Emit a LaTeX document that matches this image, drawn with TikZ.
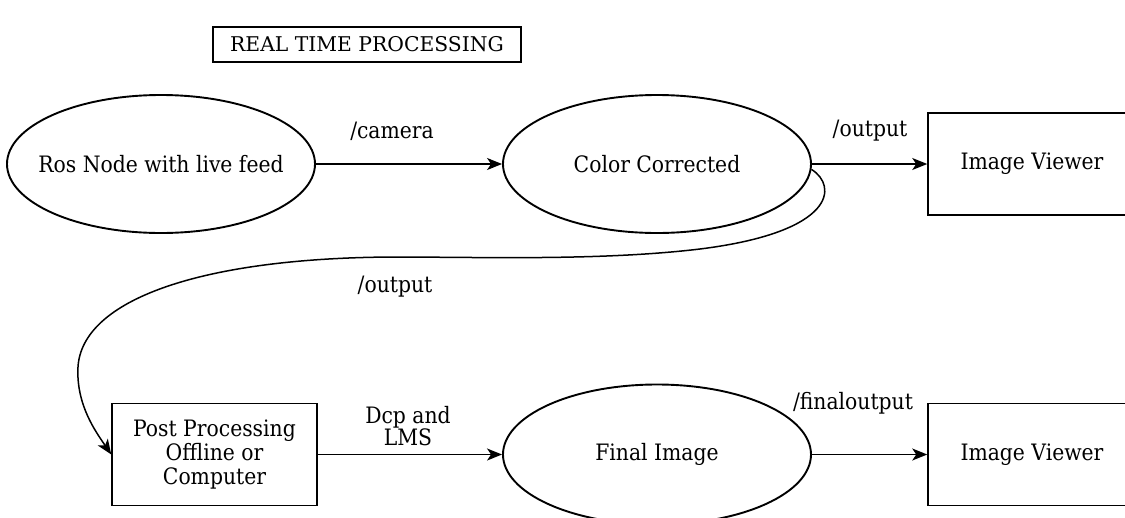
\documentclass[tikz,border=0pt]{standalone}
\usepackage{fontspec}
\setmainfont{DejaVu Serif}
\newfontfamily\narrowserif{DejaVu Serif Condensed}
\usetikzlibrary{shapes.geometric,arrows.meta}

% text that does not widen the shape around it
\newcommand{\zerowide}[1]{\makebox[0pt][c]{#1}}

\tikzset{
  every node/.style={font=\narrowserif\fontsize{22.6}{24}\selectfont},
  oval/.style={draw, ellipse, line width=1.9pt, inner sep=0pt,
    minimum width=308, minimum height=138},
  panel/.style={draw, rectangle, line width=1.5pt, inner sep=0pt, align=center},
  flow/.style={line width=1.5pt, -{Stealth[length=15pt, width=12pt, inset=4pt]}},
  tag/.style={inner sep=0pt, align=center}
}

\begin{document}
\begin{tikzpicture}[x=1pt, y=-1pt]
  \useasboundingbox (0,0) rectangle (1125,517);
  \clip (0,0) rectangle (1125,517);
  \fill[white] (0,0) rectangle (1125,517);

  % heading
  \node[panel, line width=1.3pt, minimum width=308, minimum height=35,
        font=\fontsize{20.3}{24}\selectfont] (title) at (367,44.5) {REAL TIME PROCESSING};

  % real-time row
  \node[oval] (ros) at (161,164) {\zerowide{Ros Node with live feed}};
  \node[oval] (cc) at (657,164) {\zerowide{Color Corrected}};
  \node[panel, minimum width=208, minimum height=102] (view1) at (1032,164) {Image Viewer};

  % offline row
  \node[panel, minimum width=205, minimum height=102] (post) at (214.5,454.5) {Post Processing\\Offline or\\Computer};
  \node[oval, minimum height=140] (final) at (657,454.5) {\zerowide{Final Image}};
  \node[panel, minimum width=208, minimum height=102] (view2) at (1032,454.5) {Image Viewer};

  % topics
  \draw[flow] (ros.east) -- (cc.west);
  \node[tag] (lcam) at (392,131) {/camera};

  \draw[flow] (cc.east) -- (view1.west);
  \node[tag] (lout1) at (870,131) {/output};

  \draw[flow] (cc.-2) .. controls (838,186) and (836,232) .. (700,249)
    .. controls (600,261) and (480,257) .. (393,257)
    .. controls (200,258) and (82,300) .. (78,367)
    .. controls (76,405) and (96,432) .. (post.west);
  \node[tag] (lout2) at (395,287) {/output};

  \draw[flow] (post.east) -- (final.west);
  \node[tag, font=\narrowserif\fontsize{22.6}{22}\selectfont] (ldcp) at (408,426) {Dcp and\\LMS};

  \draw[flow] (final.east) -- (view2.west);
  \node[tag] (lfin) at (853,403) {/finaloutput};
\end{tikzpicture}
\end{document}
